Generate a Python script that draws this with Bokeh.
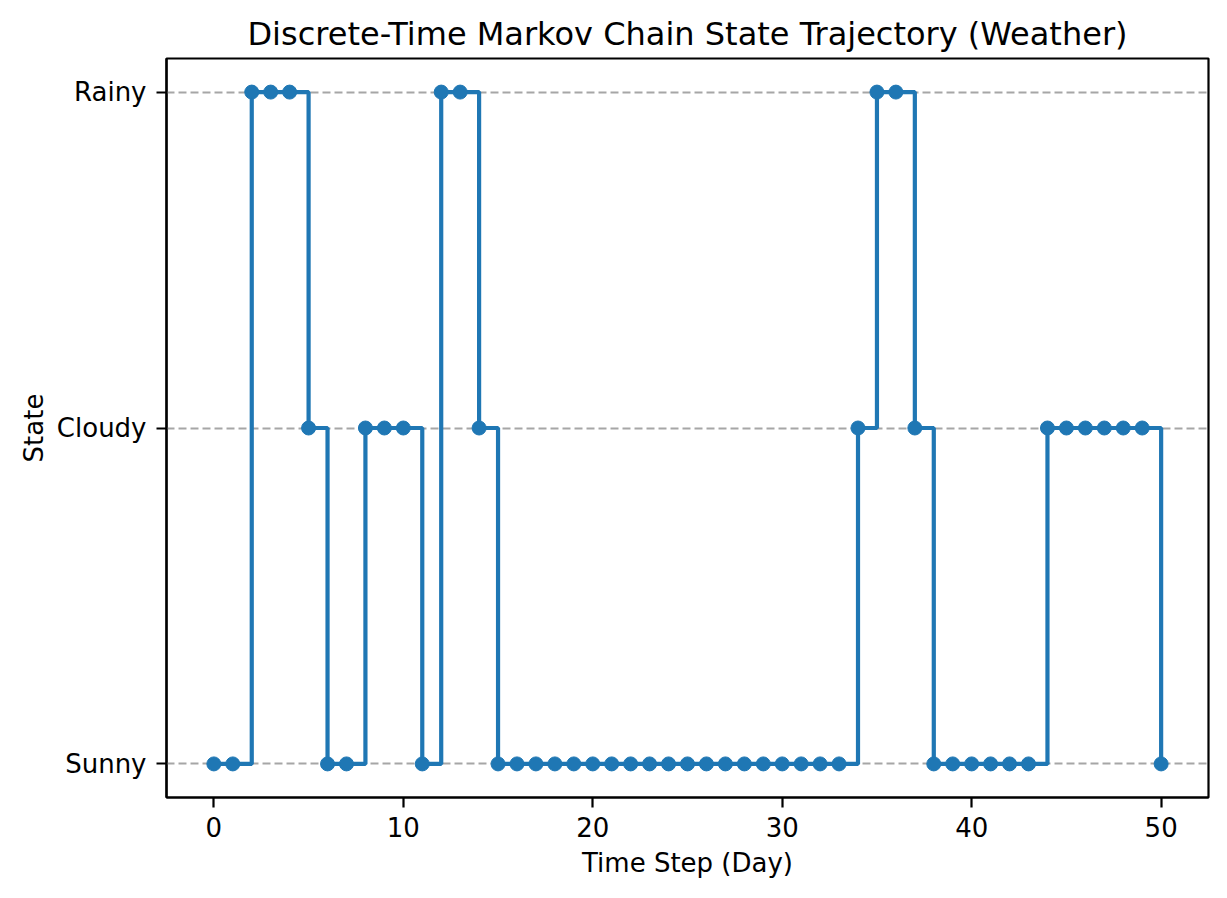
from bokeh.plotting import figure
from bokeh.models import FixedTicker, Range1d
from bokeh.embed import file_html
from bokeh.resources import INLINE

days = list(range(51))
# 0 = Sunny, 1 = Cloudy, 2 = Rainy
states = [0, 0, 2, 2, 2, 1, 0, 0, 1, 1, 1, 0, 2, 2, 1,
          0, 0, 0, 0, 0, 0, 0, 0, 0, 0, 0, 0, 0, 0, 0, 0, 0, 0, 0,
          1, 2, 2, 1,
          0, 0, 0, 0, 0, 0,
          1, 1, 1, 1, 1, 1,
          0]
state_names = ["Sunny", "Cloudy", "Rainy"]
x_ticks = [0, 10, 20, 30, 40, 50]

FONT = "DejaVu Sans"
BLUE = "#1f77b4"

p = figure(width=1211, height=882, output_backend="svg", toolbar_location=None,
           x_range=Range1d(-2.5, 52.5), y_range=Range1d(-0.1, 2.1),
           min_border_left=166, min_border_right=3, min_border_top=58, min_border_bottom=85,
           title="Discrete-Time Markov Chain State Trajectory (Weather)")

p.title.align = "center"
p.title.text_font = FONT
p.title.text_font_size = "32px"
p.title.text_font_style = "normal"
p.title.text_color = "black"
p.title.standoff = 11

p.step(days, states, mode="after", line_color=BLUE, line_width=4.2)
p.scatter(days, states, size=14, fill_color=BLUE, line_color=BLUE)

p.xgrid.visible = False
p.ygrid.grid_line_color = "#a6a6a6"
p.ygrid.grid_line_width = 2.2
p.ygrid.grid_line_dash = "8 4"
p.ygrid.ticker = FixedTicker(ticks=[0, 1, 2])

p.xaxis.ticker = FixedTicker(ticks=x_ticks)
p.yaxis.ticker = FixedTicker(ticks=[0, 1, 2])
p.yaxis.major_label_overrides = {i: n for i, n in enumerate(state_names)}

for ax in (p.xaxis[0], p.yaxis[0]):
    ax.axis_line_color = "black"
    ax.axis_line_width = 2.2
    ax.major_tick_line_color = "black"
    ax.major_tick_line_width = 2.2
    ax.major_tick_out = 10
    ax.major_tick_in = 0
    ax.minor_tick_line_color = None
    ax.major_label_text_font = FONT
    ax.major_label_text_font_size = "26px"
    ax.major_label_text_color = "black"
    ax.axis_label_text_font = FONT
    ax.axis_label_text_font_size = "26px"
    ax.axis_label_text_font_style = "normal"
    ax.axis_label_text_color = "black"

p.xaxis.major_label_standoff = 9
p.yaxis.major_label_standoff = 10
p.xaxis.axis_label = "Time Step (Day)"
p.yaxis.axis_label = "State"
p.xaxis.axis_label_standoff = 8
p.yaxis.axis_label_standoff = 5

p.outline_line_color = "black"
p.outline_line_width = 2.2
p.outline_line_alpha = 1.0

open("out.html", "w").write(file_html(p, INLINE))
